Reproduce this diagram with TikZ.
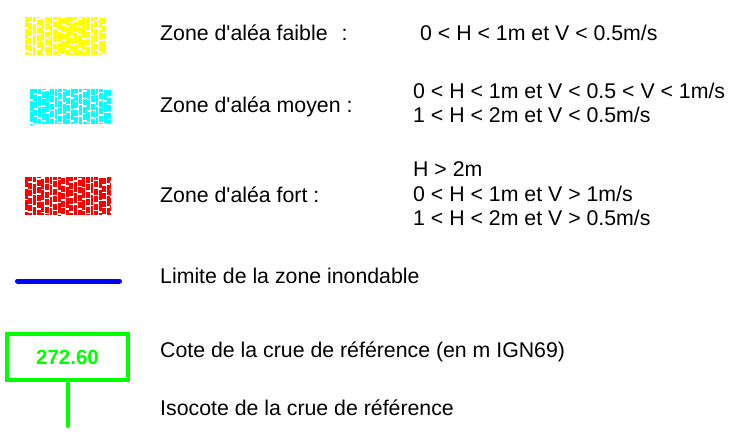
\documentclass[tikz,border=0pt]{standalone}
\usepackage{fontspec}
\newfontfamily\legendfont{Liberation Sans}
\usepackage{tikz}
\usetikzlibrary{positioning}
\definecolor{aleaYellow}{HTML}{FFFF00}
\definecolor{aleaCyan}{HTML}{00FFFF}
\definecolor{aleaRed}{HTML}{FF0000}
\definecolor{limitBlue}{HTML}{0000FF}
\definecolor{coteGreen}{HTML}{00FF00}

% hatched zone swatch: colour, left, top, width, height
\newcommand{\zoneswatch}[5]{%
  \begin{scope}[shift={(#2,#3)}]
    \clip (0,0) rectangle (#4,#5);
    \foreach \i in {0,...,10} {
      \draw[#1, line width=2.8pt, dash pattern=on 10pt off 1.5pt, dash phase=\i*5pt]
        (\i*8.2+1.4,0) -- ++(0,#5);
      \draw[#1, line width=4pt, dash pattern=on 6pt off 1.5pt, dash phase=\i*3pt+2pt]
        (\i*8.2+5.3,0) -- ++(0,#5);
    }
  \end{scope}}

\begin{document}
\begin{tikzpicture}[
  x=1pt, y=-1pt,
  every node/.style={font=\legendfont\fontsize{21.3}{24.5}\selectfont, inner sep=0pt},
  legendtext/.style={anchor=base west},
  rangetext/.style={anchor=north west, align=left},
  limitline/.style={limitBlue, line width=5pt, line cap=round},
  cotebox/.style={
    draw=coteGreen, line width=4pt,
    minimum width=121pt, minimum height=46pt,
    text=coteGreen, font=\legendfont\fontsize{20.5}{24}\selectfont\bfseries
  },
  isocote/.style={coteGreen, line width=4pt, line cap=round},
]
\useasboundingbox (0,0) rectangle (750,437);

% Zone swatches
\zoneswatch{aleaYellow}{25}{17}{82}{38}
\zoneswatch{aleaCyan}{30}{89}{82}{35}
\zoneswatch{aleaRed}{25}{177}{86}{38}

% Hazard zones
\node[legendtext] (faible) at (160,40) {Zone d'aléa faible\hspace{14pt}:};
\node[legendtext] (faibleval) at (420,40) {0 < H < 1m et V < 0.5m/s};

\node[legendtext] (moyen) at (160,112) {Zone d'aléa moyen :};
\node[rangetext] (moyenval) at (413,82.5) {0 < H < 1m et V < 0.5 < V < 1m/s\\1 < H < 2m et V < 0.5m/s};

\node[legendtext] (fort) at (160,202) {Zone d'aléa fort :};
\node[rangetext] (fortval) at (413,161.5) {H > 2m\\0 < H < 1m et V > 1m/s\\1 < H < 2m et V > 0.5m/s};

% Flood limit
\coordinate (limA) at (17.5,281);
\coordinate (limB) at (119.5,281);
\draw[limitline] (limA) -- (limB);
\node[legendtext] (limite) at (160,283) {Limite de la zone inondable};

% Reference flood level
\node[cotebox] (cote) at (67.5,357) {272.60};
\coordinate (isoEnd) at (67.5,426);
\draw[isocote] (cote.south) -- (isoEnd);
\node[legendtext] (cotelabel) at (160,357) {Cote de la crue de référence (en m IGN69)};
\node[legendtext] (isolabel) at (160,415) {Isocote de la crue de référence};

\end{tikzpicture}
\end{document}
